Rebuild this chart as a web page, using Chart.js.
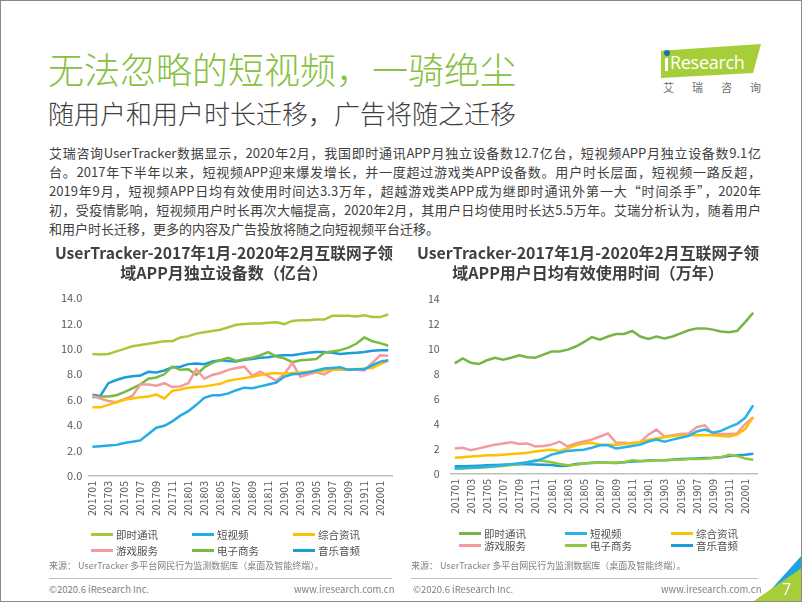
<!DOCTYPE html>
<html lang="zh-CN">
<head>
<meta charset="utf-8">
<title>无法忽略的短视频，一骑绝尘</title>
<script src="https://cdn.jsdelivr.net/npm/chart.js@4.4.0/dist/chart.umd.min.js"></script>
<style>
  html, body { margin: 0; padding: 0; background: #fff; }
  body { width: 802px; height: 602px; overflow: hidden; font-family: "Noto Sans CJK SC", "Noto Sans", sans-serif; }
  #slide { position: relative; width: 800px; height: 600px; border: 1px solid #8a8a8a; background: #fff; overflow: hidden; }
  .abs { position: absolute; white-space: nowrap; }
  #title { left: 47px; top: 44px; font-size: 36px; line-height: 46px; color: #86c13f; font-weight: 300; }
  #subtitle { left: 47px; top: 96px; font-size: 26px; line-height: 32px; color: #404040; font-weight: 300; }
  .para { left: 48px; width: 712px; font-size: 13px; line-height: 19px; color: #404040; text-align: justify; text-align-last: justify; }
  .para.last { text-align-last: left; }
  #logoBox { left: 660px; top: 43px; width: 100px; height: 34px; background: #a6ce39; clip-path: polygon(0 20%, 100% 0, 92% 85%, 0 100%); }
  #logoStem { left: 664px; top: 57px; width: 3px; height: 13px; background: #fff; }
  #logoDot { left: 663px; top: 49px; width: 6px; height: 6px; border-radius: 50%; background: #1b6fb5; }
  #logoText { left: 669px; top: 49px; font-family: "Open Sans", sans-serif; font-size: 18px; line-height: 24px; color: #fff; letter-spacing: -0.3px; }
  #logoCn { left: 662px; top: 79px; font-size: 11px; line-height: 14px; color: #6d6d6d; letter-spacing: 18px; }
  canvas { position: absolute; }
  .lg { position: absolute; display: grid; }
  .lgi { display: flex; align-items: center; font-size: 10.5px; color: #505050; white-space: nowrap; }
  .lgs { width: 22px; height: 3px; margin-right: 3px; flex: none; }
  .src { font-size: 9px; line-height: 12px; color: #7f7f7f; }
  .rule { height: 1px; background: #bfbfbf; }
  .foot { font-size: 9.5px; line-height: 12px; color: #7f7f7f; }
  #cornerBlue { left: 766px; top: 553px; width: 36px; height: 40px; background: #1ea4dd; clip-path: polygon(100% 0, 100% 45%, 30% 100%, 0 100%); }
  #cornerLime { left: 750px; top: 566px; width: 52px; height: 36px; background: #a6ce39; clip-path: polygon(100% 0, 100% 100%, 0 100%); }
  #pageNo { left: 781px; top: 578px; font-family: "Open Sans", sans-serif; font-size: 16px; line-height: 20px; color: #fff; }
</style>
</head>
<body>
<div id="slide">
  <div class="abs" id="title">无法忽略的短视频，一骑绝尘</div>
  <div class="abs" id="subtitle">随用户和用户时长迁移，广告将随之迁移</div>

  <div class="abs" id="logoBox"></div>
  <div class="abs" id="logoStem"></div>
  <div class="abs" id="logoDot"></div>
  <div class="abs" id="logoText">Research</div>
  <div class="abs" id="logoCn">艾瑞咨询</div>

  <div class="abs para" style="top:142px">艾瑞咨询UserTracker数据显示，2020年2月，我国即时通讯APP月独立设备数12.7亿台，短视频APP月独立设备数9.1亿</div>
  <div class="abs para" style="top:161px">台。2017年下半年以来，短视频APP迎来爆发增长，并一度超过游戏类APP设备数。用户时长层面，短视频一路反超，</div>
  <div class="abs para" style="top:180px">2019年9月，短视频APP日均有效使用时间达3.3万年，超越游戏类APP成为继即时通讯外第一大“时间杀手”，2020年</div>
  <div class="abs para" style="top:199px">初，受疫情影响，短视频用户时长再次大幅提高，2020年2月，其用户日均使用时长达5.5万年。艾瑞分析认为，随着用户</div>
  <div class="abs para last" style="top:218px">和用户时长迁移，更多的内容及广告投放将随之向短视频平台迁移。</div>

  <canvas id="deviceChart" width="355" height="290" style="left:50px; top:240px; width:355px; height:290px;"></canvas>
  <canvas id="timeChart" width="360" height="290" style="left:410px; top:240px; width:360px; height:290px;"></canvas>

  <div class="lg" id="deviceLegend" style="left:90px; top:525px; grid-template-columns:101px 101px 101px; grid-auto-rows:16px;"></div>
  <div class="lg" id="timeLegend" style="left:458px; top:527px; grid-template-columns:106px 106px 106px; grid-auto-rows:11.5px;"></div>

  <div class="abs src" style="left:48px; top:559px;">来源： UserTracker 多平台网民行为监测数据库（桌面及智能终端）。</div>
  <div class="abs src" style="left:410px; top:559px;">来源： UserTracker 多平台网民行为监测数据库（桌面及智能终端）。</div>
  <div class="abs rule" style="left:48px; top:577px; width:343px;"></div>
  <div class="abs rule" style="left:410px; top:577px; width:347px;"></div>
  <div class="abs foot" style="left:48px; top:582px;">©2020.6 iResearch Inc.</div>
  <div class="abs foot" style="left:293px; top:582px;">www.iresearch.com.cn</div>
  <div class="abs foot" style="left:412px; top:582px;">©2020.6 iResearch Inc.</div>
  <div class="abs foot" style="left:660px; top:582px;">www.iresearch.com.cn</div>

  <div class="abs" id="cornerBlue"></div>
  <div class="abs" id="cornerLime"></div>
  <div class="abs" id="pageNo">7</div>
</div>

<script>
// 月份（横轴刻度）
var months = ['201701','201702','201703','201704','201705','201706','201707','201708','201709','201710','201711','201712',
              '201801','201802','201803','201804','201805','201806','201807','201808','201809','201810','201811','201812',
              '201901','201902','201903','201904','201905','201906','201907','201908','201909','201910','201911','201912',
              '202001','202002'];

var seriesNames = ['即时通讯', '短视频', '综合资讯', '游戏服务', '电子商务', '音乐音频'];

// 月独立设备数（亿台）
var deviceIM      = [9.6,9.55,9.6,9.8,10.0,10.2,10.3,10.4,10.5,10.6,10.6,10.9,11.0,11.2,11.3,11.4,11.5,11.7,11.9,11.95,12.0,12.0,12.05,12.1,11.95,12.2,12.25,12.25,12.3,12.3,12.6,12.6,12.6,12.55,12.65,12.5,12.5,12.7];
var deviceVideo   = [2.3,2.35,2.4,2.45,2.6,2.7,2.8,3.3,3.8,3.95,4.3,4.75,5.1,5.6,6.15,6.35,6.35,6.5,6.75,6.95,6.9,7.05,7.2,7.35,7.8,8.0,8.05,8.15,8.3,8.45,8.5,8.55,8.35,8.4,8.4,8.7,9.0,9.1];
var deviceNews    = [5.4,5.4,5.6,5.8,6.0,6.1,6.2,6.25,6.4,6.1,6.7,6.8,6.95,7.0,7.05,7.15,7.25,7.5,7.6,7.7,7.8,7.95,8.05,8.1,8.05,8.1,8.15,8.2,8.2,8.3,8.35,8.4,8.4,8.4,8.45,8.5,8.8,9.05];
var deviceGame    = [6.3,6.1,5.9,5.8,6.05,6.3,7.2,7.2,7.1,7.3,7.0,7.05,7.3,8.4,7.65,7.95,8.1,8.35,8.5,8.6,7.9,8.2,7.85,7.5,8.0,8.9,7.8,8.0,8.15,8.0,8.35,8.35,8.35,8.35,8.3,8.9,9.5,9.45];
var deviceEcom    = [6.2,6.25,6.25,6.35,6.6,6.9,7.2,7.65,7.75,8.0,8.6,8.35,8.4,7.95,8.55,8.9,9.1,9.3,9.05,9.2,9.3,9.5,9.75,9.4,9.25,8.95,9.1,9.15,9.2,9.7,9.8,9.9,10.1,10.4,10.9,10.6,10.45,10.25];
var deviceMusic   = [6.4,6.3,7.3,7.55,7.75,7.85,7.9,8.2,8.15,8.3,8.55,8.6,8.8,8.85,8.8,9.0,9.1,9.05,9.0,9.15,9.2,9.3,9.35,9.45,9.5,9.5,9.6,9.7,9.75,9.75,9.7,9.6,9.65,9.7,9.75,9.85,9.9,9.9];

// 用户日均有效使用时间（万年）
var timeIM        = [8.85,9.25,8.9,8.8,9.1,9.3,9.15,9.3,9.5,9.35,9.3,9.55,9.8,9.8,9.95,10.2,10.55,10.95,10.75,11.0,11.2,11.2,11.45,11.0,10.8,11.0,10.85,11.0,11.25,11.5,11.65,11.65,11.55,11.4,11.35,11.45,12.15,12.9];
var timeVideo     = [0.45,0.48,0.5,0.55,0.6,0.65,0.72,0.78,0.86,0.95,1.05,1.25,1.55,1.7,1.85,1.9,1.95,2.1,2.3,2.3,2.05,2.15,2.25,2.35,2.6,2.75,2.58,2.75,2.9,3.05,3.4,3.55,3.3,3.45,3.75,4.0,4.5,5.5];
var timeNews      = [1.3,1.35,1.4,1.45,1.5,1.5,1.55,1.6,1.65,1.7,1.8,1.88,1.95,1.85,2.05,2.3,2.45,2.5,2.35,2.35,2.35,2.4,2.5,2.55,2.75,2.85,2.95,3.05,3.1,3.1,3.1,3.1,3.1,3.05,3.0,3.15,3.6,4.55];
var timeGame      = [2.05,2.1,1.9,2.05,2.2,2.35,2.45,2.55,2.4,2.45,2.2,2.25,2.35,2.6,2.2,2.45,2.6,2.75,3.0,3.25,2.5,2.5,2.45,2.55,3.15,3.55,3.0,3.1,3.2,3.25,3.75,3.9,3.2,3.2,3.2,3.25,4.0,4.55];
var timeEcom      = [0.45,0.45,0.48,0.5,0.55,0.6,0.65,0.72,0.8,0.95,1.1,1.05,0.95,0.8,0.7,0.75,0.85,0.88,0.9,0.9,0.9,0.95,1.1,1.05,1.05,1.1,1.1,1.15,1.15,1.2,1.2,1.22,1.28,1.35,1.55,1.45,1.25,1.15];
var timeMusic     = [0.62,0.63,0.65,0.67,0.7,0.72,0.74,0.76,0.78,0.78,0.76,0.74,0.72,0.65,0.66,0.8,0.85,0.9,0.92,0.9,0.88,0.95,1.0,1.02,1.08,1.1,1.1,1.15,1.2,1.22,1.25,1.28,1.3,1.35,1.45,1.5,1.55,1.62];

var deviceTitle = ['UserTracker-2017年1月-2020年2月互联网子领', '域APP月独立设备数（亿台）'];
var timeTitle   = ['UserTracker-2017年1月-2020年2月互联网子领', '域APP用户日均有效使用时间（万年）'];

var deviceColors = ['#a6c93c', '#22ade6', '#ffc000', '#f39a9c', '#7cb940', '#1c9cdb'];
var timeColors   = ['#78b444', '#27b3e8', '#ffc000', '#f39a9c', '#93c63f', '#1c9cdb'];

var FONT = '"Noto Sans CJK SC", "Noto Sans", sans-serif';

// legend drawn as html so the items sit in a 3 column grid
function htmlLegend(boxId) {
  return {
    id: 'htmlLegend',
    afterUpdate: function (chart) {
      var box = document.getElementById(boxId);
      box.innerHTML = '';
      var items = Chart.defaults.plugins.legend.labels.generateLabels(chart);
      items.forEach(function (item) {
        var cell = document.createElement('div');
        cell.className = 'lgi';
        var swatch = document.createElement('span');
        swatch.className = 'lgs';
        swatch.style.background = item.strokeStyle;
        var txt = document.createElement('span');
        txt.textContent = item.text;
        cell.appendChild(swatch);
        cell.appendChild(txt);
        box.appendChild(cell);
      });
    }
  };
}

function makeChart(canvasId, legendId, title, series, colors, s) {
  var datasets = seriesNames.map(function (name, i) {
    return {
      label: name,
      data: series[i],
      borderColor: colors[i],
      backgroundColor: colors[i],
      borderWidth: 2.5,
      pointRadius: 0,
      tension: 0,
      fill: false
    };
  });

  return new Chart(document.getElementById(canvasId), {
    type: 'line',
    data: { labels: months, datasets: datasets },
    options: {
      responsive: false,
      animation: false,
      layout: { padding: s.pad },
      plugins: {
        legend: { display: false },
        tooltip: { enabled: false },
        title: {
          display: true,
          text: title,
          color: '#404040',
          font: { family: FONT, size: 16, weight: 'bold', lineHeight: 1.25 },
          padding: { top: 2, bottom: s.titleBottom }
        }
      },
      scales: {
        x: {
          offset: true,
          grid: { display: false, drawTicks: false },
          border: { display: true, color: '#bfbfbf', width: 1.5 },
          ticks: {
            autoSkip: false,
            minRotation: 90,
            maxRotation: 90,
            padding: 5,
            color: '#595959',
            font: { family: FONT, size: 10.5 },
            callback: function (v, i) { return i % 2 === 0 ? months[i] : ''; }
          }
        },
        y: {
          min: 0,
          max: 14,
          grid: { display: false, drawTicks: false },
          border: { display: false },
          ticks: {
            stepSize: 2,
            padding: s.yPad,
            color: '#595959',
            font: { family: FONT, size: s.ySize },
            callback: s.yFormat
          }
        }
      }
    },
    plugins: [htmlLegend(legendId)]
  });
}

makeChart('deviceChart', 'deviceLegend', deviceTitle,
  [deviceIM, deviceVideo, deviceNews, deviceGame, deviceEcom, deviceMusic], deviceColors,
  { pad: { left: 4, right: 13, top: 0, bottom: 10 }, titleBottom: 15, yPad: 6, ySize: 11,
    yFormat: function (v) { return v.toFixed(1); } });

makeChart('timeChart', 'timeLegend', timeTitle,
  [timeIM, timeVideo, timeNews, timeGame, timeEcom, timeMusic], timeColors,
  { pad: { left: 6, right: 12, top: 0, bottom: 12 }, titleBottom: 16, yPad: 11, ySize: 10.5,
    yFormat: function (v) { return v; } });
</script>
</body>
</html>
